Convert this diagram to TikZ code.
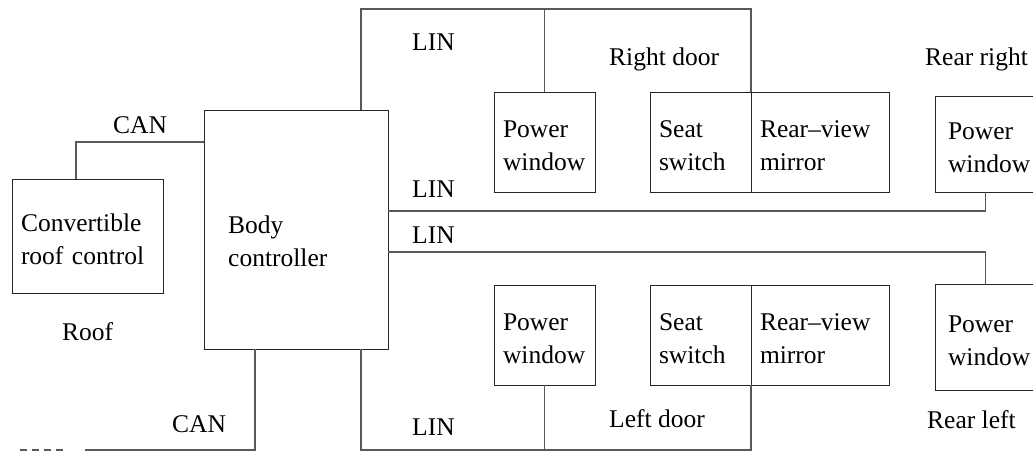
\documentclass[tikz,border=0pt]{standalone}
\usepackage{fontspec}
\setmainfont{Liberation Serif}
\usetikzlibrary{positioning}

\begin{document}
\begin{tikzpicture}[
    x=1pt, y=-1pt,
    font=\fontsize{25.5}{33}\selectfont,
    box/.style={draw=black!85, line width=0.9pt, anchor=north west, outer sep=0pt, inner xsep=9pt, inner ysep=0pt, align=left,
        execute at begin node=\rule{0pt}{25pt}},
    win/.style={box, text width=83pt, minimum height=100pt},
    rear/.style={win, inner xsep=13pt, text width=75pt},
    bus/.style={draw=black!65, line width=1.2pt},
    tag/.style={anchor=base west, inner sep=0pt}
]
\useasboundingbox (0,0) rectangle (1033,451);

% Rails
\coordinate (toprail) at (0,9);
\coordinate (canrail) at (0,142);
\coordinate (rrrail) at (0,211);
\coordinate (rlrail) at (0,252);
\coordinate (botrail) at (0,450);
\coordinate (canend) at (85,450);
\coordinate (dashstart) at (20,450);
\coordinate (dashend) at (63,450);

% Roof
\node[box, text width=133pt, minimum height=114pt] (roof) at (12,179) {Convertible\\roof control};
\node[tag] (rooflabel) at (62,340) {Roof};

% Body controller
\node[box, minimum width=184pt, minimum height=239pt] (body) at (204,110) {};
\node[anchor=west, align=left, inner sep=0pt] (bodytext) at (228,241) {Body\\controller};

% Right door
\node[win] (rdpw) at (494,92) {Power\\window};
\node[win] (rdseat) at (650,92) {Seat\\switch};
\node[box, text width=120pt, minimum height=100pt, right=0pt of rdseat] (rdmir) {Rear--view\\mirror};
\node[tag] (rdlabel) at (609,65) {Right door};

% Rear right
\node[rear, minimum height=96pt] (rrpw) at (935,96) {Power\\window};
\node[tag] (rrlabel) at (925,65) {Rear right};

% Left door
\node[win] (ldpw) at (494,285) {Power\\window};
\node[win] (ldseat) at (650,285) {Seat\\switch};
\node[box, text width=120pt, minimum height=100pt, right=0pt of ldseat] (ldmir) {Rear--view\\mirror};
\node[tag] (ldlabel) at (609,427) {Left door};

% Rear left
\node[rear, minimum height=106pt] (rlpw) at (935,284) {Power\\window};
\node[tag] (rllabel) at (927,428) {Rear left};

% Buses
\draw[bus] ([xshift=-11.5pt]roof.north) |- (body.west |- canrail);
\draw[bus] ([xshift=-27pt]body.north east) |- (toprail -| rdseat.north east) -- (rdseat.north east);
\draw[bus] (rdpw.north) -- (rdpw.north |- toprail);
\draw[bus] (rrpw.south) |- (body.east |- rrrail);
\draw[bus] (body.east |- rlrail) -| (rlpw.north);
\draw[bus] ([xshift=-27pt]body.south east) |- (botrail -| ldseat.south east) -- (ldseat.south east);
\draw[bus] (ldpw.south) -- (ldpw.south |- botrail);
\draw[bus] ([xshift=51pt]body.south west) |- (canend);
\draw[bus, dash pattern=on 7pt off 5pt] (dashstart) -- (dashend);

% Bus labels
\node[tag] (cantop) at (113,133) {CAN};
\node[tag] (lintop) at (412,50) {LIN};
\node[tag] (linrr) at (412,197) {LIN};
\node[tag] (linrl) at (412,243) {LIN};
\node[tag] (canbot) at (172,432) {CAN};
\node[tag] (linbot) at (412,435) {LIN};

\end{tikzpicture}
\end{document}
